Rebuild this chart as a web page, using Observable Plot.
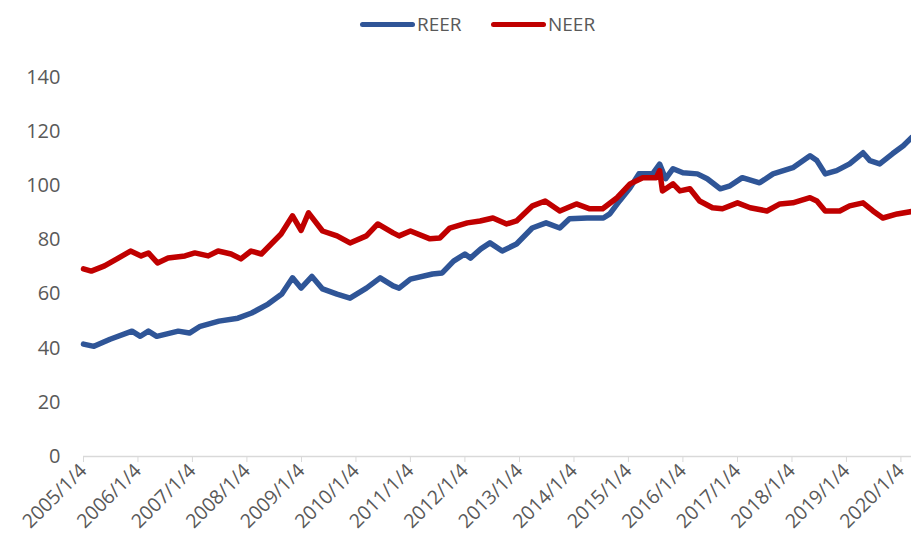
<!DOCTYPE html>
<html>
<head>
<meta charset="utf-8">
<script src="https://cdn.jsdelivr.net/npm/d3@7"></script>
<script src="https://cdn.jsdelivr.net/npm/@observablehq/plot@0.6"></script>
<style>
  html, body { margin: 0; padding: 0; background: #fff; }
  #wrap { width: 911px; height: 555px; position: relative; overflow: hidden; font-family: "Open Sans", sans-serif; }
  #legend { position: relative; height: 45px; width: 911px; }
  .sw { position: absolute; top: 22px; height: 5px; width: 55px; border-radius: 3px; }
  .lt { position: absolute; top: 9px; font-size: 19px; color: #595959; line-height: 30px; }
</style>
</head>
<body>
<div id="wrap">
  <div id="legend">
    <div class="sw" style="left:360px;background:#2f5597"></div>
    <div class="lt" style="left:417px">REER</div>
    <div class="sw" style="left:491px;background:#c00000"></div>
    <div class="lt" style="left:548px">NEER</div>
  </div>
  <div id="chart"></div>
</div>
<script>
const seriesNames = ["REER", "NEER"];
const seriesColors = ["#2f5597", "#c00000"];
const yTicks = [0, 20, 40, 60, 80, 100, 120, 140];
const tickYears = [2005, 2006, 2007, 2008, 2009, 2010, 2011, 2012, 2013, 2014, 2015, 2016, 2017, 2018, 2019, 2020];

const reerDates = ["2005-01-04","2005-03-15","2005-07-01","2005-11-25","2006-01-20","2006-03-15","2006-05-10","2006-10-01","2006-12-15","2007-02-25","2007-07-01","2007-11-05","2008-02-05","2008-05-25","2008-08-25","2008-11-05","2009-01-01","2009-03-15","2009-05-25","2009-08-30","2009-11-25","2010-03-15","2010-06-15","2010-09-10","2010-10-20","2011-01-04","2011-06-01","2011-08-05","2011-10-20","2012-01-04","2012-02-10","2012-04-20","2012-06-20","2012-09-10","2012-12-15","2013-03-30","2013-07-01","2013-10-01","2013-12-05","2014-04-01","2014-07-20","2014-09-01","2014-11-05","2015-01-15","2015-03-15","2015-06-15","2015-08-01","2015-09-10","2015-10-30","2016-01-04","2016-04-10","2016-06-15","2016-09-10","2016-11-15","2017-02-05","2017-06-01","2017-08-30","2018-01-10","2018-05-05","2018-06-20","2018-08-15","2018-10-30","2019-01-25","2019-04-25","2019-06-10","2019-08-15","2019-11-10","2020-01-20","2020-03-15"];
const reerValues = [41.5,40.7,43.3,46.3,44.4,46.3,44.4,46.3,45.6,48.1,50,51.1,53,56.3,60,66,62.2,66.5,61.9,60,58.5,62.2,66,63,62.2,65.5,67.4,67.8,72.2,74.8,73.3,76.7,78.9,75.9,78.5,84.4,86.3,84.4,87.8,88.1,88.1,89.6,94.4,99.3,104.4,104.4,108,102.6,106.3,104.8,104.4,102.6,98.9,100,103,101.1,104.4,106.7,111.1,109.3,104.4,105.6,108.1,112.2,109.3,108.1,111.9,114.8,117.8];

const neerDates = ["2005-01-04","2005-02-25","2005-05-25","2005-08-25","2005-11-15","2006-01-25","2006-03-15","2006-05-15","2006-07-25","2006-11-15","2007-01-20","2007-04-20","2007-06-25","2007-09-20","2007-11-25","2008-02-01","2008-04-10","2008-06-15","2008-08-20","2008-11-05","2009-01-01","2009-02-20","2009-05-25","2009-08-30","2009-11-25","2010-03-15","2010-05-30","2010-09-10","2010-10-20","2011-01-04","2011-05-15","2011-07-20","2011-09-25","2012-01-20","2012-04-15","2012-07-10","2012-10-10","2012-12-15","2013-04-01","2013-06-25","2013-10-01","2014-01-20","2014-04-20","2014-07-15","2014-10-20","2015-01-15","2015-04-10","2015-07-10","2015-08-01","2015-08-20","2015-10-30","2015-12-15","2016-02-20","2016-04-25","2016-07-20","2016-09-25","2017-01-04","2017-03-30","2017-07-20","2017-10-15","2018-01-10","2018-05-05","2018-06-20","2018-08-15","2018-11-20","2019-01-25","2019-04-25","2019-07-01","2019-09-05","2019-12-10","2020-03-15"];
const neerValues = [69.3,68.5,70.4,73.3,75.9,74.1,75.2,71.5,73.3,74.1,75.2,74.1,75.9,74.8,73,75.9,74.8,78.5,82.2,88.9,83.5,90,83.3,81.5,78.9,81.5,85.9,82.6,81.5,83.3,80.4,80.7,84.4,86.3,87,88.1,85.9,87,92.6,94.4,90.7,93.3,91.5,91.5,95.6,100.7,103,103,105.6,98.1,100.7,98.1,98.9,94.4,91.9,91.5,93.7,91.9,90.7,93.3,93.7,95.6,94.4,90.7,90.7,92.6,93.7,90.7,88.1,89.6,90.5];

const parse = d3.utcParse("%Y-%m-%d");
const rows = [];
reerDates.forEach((d, i) => rows.push({date: parse(d), value: reerValues[i], series: seriesNames[0]}));
neerDates.forEach((d, i) => rows.push({date: parse(d), value: neerValues[i], series: seriesNames[1]}));
const xTicks = tickYears.map(y => new Date(Date.UTC(y, 0, 4)));

const chart = Plot.plot({
  width: 911,
  height: 510,
  marginLeft: 83,
  marginRight: 0,
  marginTop: 32,
  marginBottom: 99,
  style: {fontFamily: "Open Sans, sans-serif", background: "#fff", overflow: "visible"},
  x: {type: "utc", domain: [parse("2005-01-04"), parse("2020-03-15")]},
  y: {domain: [0, 140]},
  color: {domain: seriesNames, range: seriesColors},
  marks: [
    Plot.axisY({ticks: yTicks, tickSize: 0, tickPadding: 23, fontSize: 20, fill: "#595959", label: null}),
    Plot.ruleY([0], {stroke: "#d9d9d9", strokeWidth: 1.3}),
    Plot.axisX({ticks: xTicks, tickSize: 6, stroke: "#d9d9d9", tickPadding: 5, tickRotate: -45, fontSize: 19.5, fill: "#595959", label: null,
      tickFormat: d => `${d.getUTCFullYear()}/1/4`}),
    Plot.lineY(rows, {x: "date", y: "value", z: "series", stroke: "series", strokeWidth: 5.5, strokeLinejoin: "round"})
  ]
});
document.getElementById("chart").appendChild(chart);
</script>
</body>
</html>
